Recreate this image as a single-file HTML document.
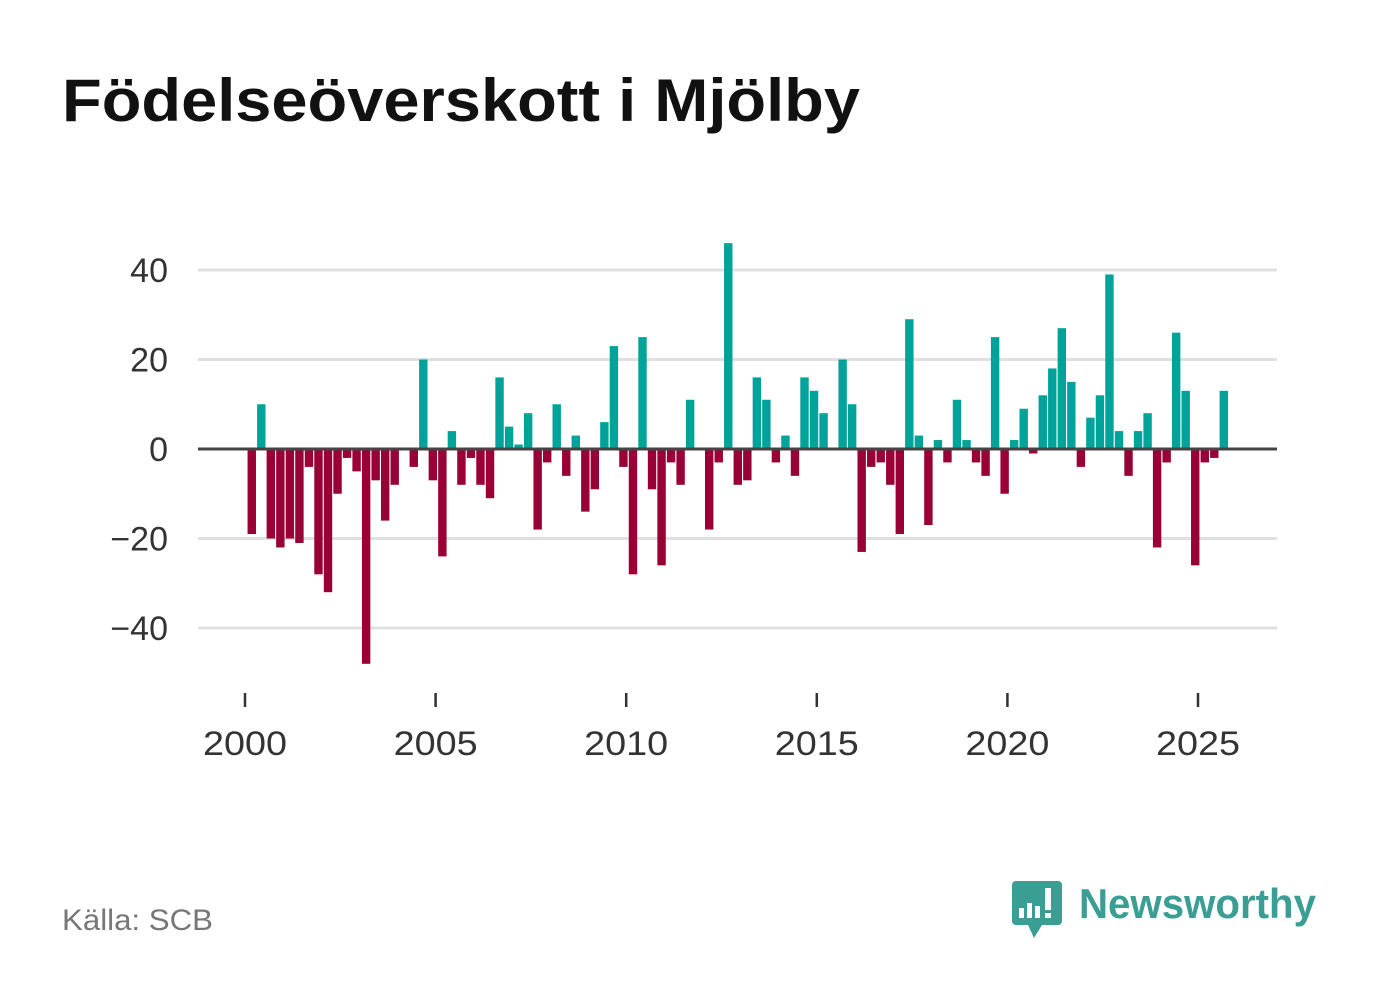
<!DOCTYPE html>
<html><head><meta charset="utf-8">
<style>
html,body{margin:0;padding:0;background:#fff;}
body{width:1382px;height:999px;overflow:hidden;position:relative;font-family:"Liberation Sans",sans-serif;}
</style></head>
<body>
<svg id="chart" width="1382" height="999" xmlns="http://www.w3.org/2000/svg" style="position:absolute;left:0;top:0">
<text x="62" y="121" font-family="Liberation Sans, sans-serif" font-weight="bold" font-size="60" textLength="798" lengthAdjust="spacingAndGlyphs" fill="#111">Födelseöverskott i Mjölby</text>
<g id="grid"></g>
<g id="bars"></g>
<g id="yaxis"></g>
<g id="xaxis"></g>
<text x="62" y="930" font-family="Liberation Sans, sans-serif" font-size="30" textLength="151" lengthAdjust="spacingAndGlyphs" fill="#777">Källa: SCB</text>
<g>
<path d="M1016 881 h42 a4 4 0 0 1 4 4 v36 a4 4 0 0 1 -4 4 h-16 l-8 13 l-6 -13 h-12 a4 4 0 0 1 -4 -4 v-36 a4 4 0 0 1 4 -4z" fill="#3a9e94"/>
<rect x="1019" y="908" width="5" height="10" fill="#fff"/>
<rect x="1027" y="903" width="5" height="15" fill="#fff"/>
<rect x="1035" y="906" width="5" height="12" fill="#fff"/>
<rect x="1045" y="888" width="6" height="22" fill="#fff"/>
<rect x="1045" y="913" width="6" height="5" fill="#fff"/>
<text x="1079" y="918" font-family="Liberation Sans, sans-serif" font-weight="bold" font-size="42" textLength="237" lengthAdjust="spacingAndGlyphs" fill="#3a9e94">Newsworthy</text>
</g>
</svg>
<script>
const years = [2000, 2005, 2010, 2015, 2020, 2025];
const yTicks = [40, 20, 0, -20, -40];
const yTickLabels = ["40", "20", "0", "\u221220", "\u221240"];
const startYear = 2000;
const values = [-19,10,-20,-22,-20,-21,-4,-28,-32,-10,-2,-5,-48,-7,-16,-8,
0,-4,20,-7,-24,4,-8,-2,-8,-11,16,5,1,8,-18,-3,10,-6,3,-14,-9,6,23,-4,
-28,25,-9,-26,-3,-8,11,0,-18,-3,46,-8,-7,16,11,-3,3,-6,16,13,8,0,20,10,
-23,-4,-3,-8,-19,29,3,-17,2,-3,11,2,-3,-6,25,-10,2,9,-1,12,18,27,15,-4,
7,12,39,4,-6,4,8,-22,-3,26,13,-26,-3,-2,13];

const NS="http://www.w3.org/2000/svg";
const xScale = t => 245 + (t - 2000) * 38.12;
const yScale = v => 449 - v * 4.475;
const X0=198, X1=1277;
function mk(tag, attrs, parent){const e=document.createElementNS(NS,tag);for(const k in attrs)e.setAttribute(k,attrs[k]);parent.appendChild(e);return e;}
const grid=document.getElementById('grid'), bars=document.getElementById('bars'), ya=document.getElementById('yaxis'), xa=document.getElementById('xaxis');
yTicks.forEach((v,i)=>{
  if(v!==0){const l=mk('line',{x1:X0,x2:X1,y1:yScale(v),y2:yScale(v),stroke:'#e0e0e0','stroke-width':3},grid);
  
  }
  const t=mk('text',{x:168,y:yScale(v)+12,'text-anchor':'end','font-size':34,fill:'#333','font-family':'Liberation Sans, sans-serif'},ya);
  t.textContent=yTickLabels[i];
  
  
});
values.forEach((v,i)=>{
  const cx=xScale(startYear+i*0.25+0.125)+2;
  const y0=yScale(0), y1=yScale(v);
  const r=mk('rect',{x:cx-4.2,width:8.4,y:Math.min(y0,y1),height:Math.abs(y1-y0),fill:v>=0?'#00a39a':'#990036'},bars);
  
  
});
const zl=mk('line',{x1:X0,x2:X1,y1:yScale(0),y2:yScale(0),stroke:'#444','stroke-width':3},ya);


years.forEach(y=>{
  const x=xScale(y);
  const tk=mk('line',{x1:x,x2:x,y1:693,y2:707,stroke:'#333','stroke-width':2.5},xa);
  
  
  const t=mk('text',{x:x,y:755,'text-anchor':'middle','font-size':34,textLength:84,lengthAdjust:'spacingAndGlyphs',fill:'#333','font-family':'Liberation Sans, sans-serif'},xa);
  t.textContent=y;
  
  
});
</script>
</body></html>
